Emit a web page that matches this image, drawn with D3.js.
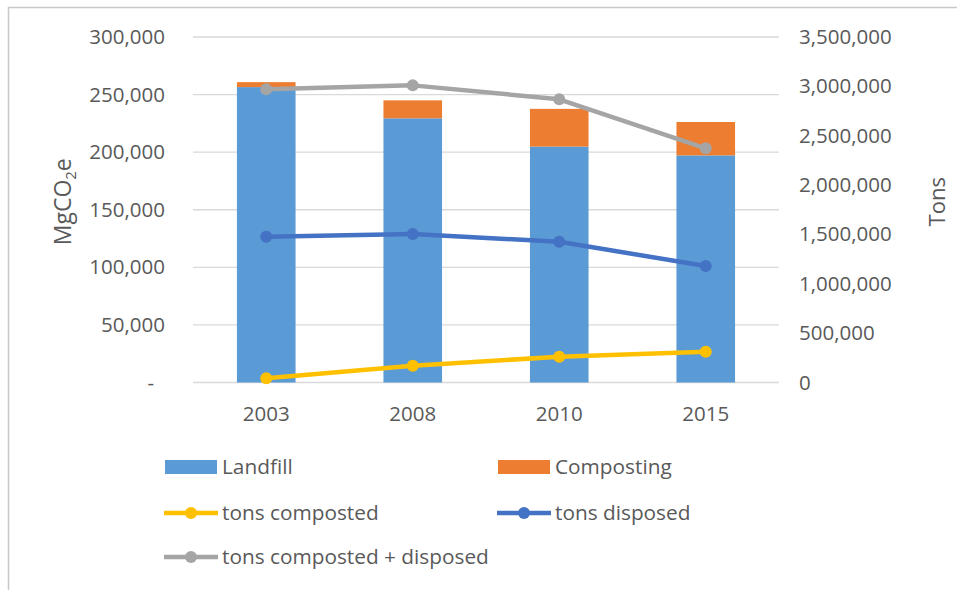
<!DOCTYPE html>
<html>
<head>
<meta charset="utf-8">
<script src="https://cdn.jsdelivr.net/npm/d3@7"></script>
<style>
  html, body { margin: 0; padding: 0; background: #fff; }
  svg { display: block; }
  text { font-family: "Open Sans", "Noto Sans", sans-serif; fill: #595959; }
</style>
</head>
<body>
<svg id="chart" width="957" height="590"></svg>
<script>
// Emissions by year (MgCO2e), stacked bars
const years = ["2003", "2008", "2010", "2015"];
const landfill = [256500, 229400, 204800, 197200];
const composting = [4300, 15600, 32800, 29000];

// Tonnage series (secondary axis)
const tonsComposted = [42500, 170000, 261000, 312000];
const tonsDisposed = [1477000, 1504000, 1426000, 1180000];
const tonsTotal = [2970000, 3010000, 2869000, 2372000];

const leftTicks = [0, 50000, 100000, 150000, 200000, 250000, 300000];
const rightTicks = [0, 500000, 1000000, 1500000, 2000000, 2500000, 3000000, 3500000];

const colors = {
  landfill: "#5B9BD5",
  composting: "#ED7D31",
  composted: "#FFC000",
  disposed: "#4472C4",
  total: "#A5A5A5"
};

const svg = d3.select("#chart");
const W = 957, H = 590;
const plot = { left: 193, right: 779, top: 37, bottom: 382.5 };

// Chart frame
svg.append("path")
  .attr("d", `M8.5,${H} L8.5,7.5 L${W},7.5`)
  .attr("fill", "none")
  .attr("stroke", "#C8C8C8")
  .attr("stroke-width", 1.5);

const x = d3.scaleBand().domain(years).range([plot.left, plot.right]).paddingInner(0).paddingOuter(0);
const yL = d3.scaleLinear().domain([0, 300000]).range([plot.bottom, plot.top]);
const yR = d3.scaleLinear().domain([0, 3500000]).range([plot.bottom, plot.top]);

const fmt = d3.format(",");

// Gridlines
svg.append("g").selectAll("line").data(leftTicks).join("line")
  .attr("x1", plot.left).attr("x2", plot.right)
  .attr("y1", d => yL(d)).attr("y2", d => yL(d))
  .attr("stroke", "#D9D9D9").attr("stroke-width", 1.3);

// Left axis
const leftAxis = svg.append("g")
  .attr("transform", `translate(${plot.left - 28},0)`)
  .call(d3.axisLeft(yL).tickValues(leftTicks).tickSize(0).tickPadding(0)
    .tickFormat(d => d === 0 ? "-" : fmt(d)));
leftAxis.select(".domain").remove();
leftAxis.selectAll("text")
  .attr("font-size", 20.5)
  .attr("fill", "#595959")
  .attr("font-family", "'Open Sans', sans-serif")
  .attr("dx", d => d === 0 ? -11 : 0);

// Right axis
const rightAxis = svg.append("g")
  .attr("transform", `translate(${plot.right + 20},0)`)
  .call(d3.axisRight(yR).tickValues(rightTicks).tickSize(0).tickPadding(0).tickFormat(fmt));
rightAxis.select(".domain").remove();
rightAxis.selectAll("text")
  .attr("font-size", 20.5)
  .attr("fill", "#595959")
  .attr("font-family", "'Open Sans', sans-serif");

// Category axis labels
const xAxis = svg.append("g")
  .attr("transform", `translate(0,${plot.bottom + 20})`)
  .call(d3.axisBottom(x).tickSize(0).tickPadding(0));
xAxis.select(".domain").remove();
xAxis.selectAll("text")
  .attr("font-size", 20.5)
  .attr("fill", "#595959")
  .attr("font-family", "'Open Sans', sans-serif")
  .attr("dy", "0.9em");

// Stacked bars
const barW = x.bandwidth() * 0.4;
const stackData = years.map((yr, i) => ({ year: yr, landfill: landfill[i], composting: composting[i] }));
const stack = d3.stack().keys(["landfill", "composting"])(stackData);
svg.append("g").selectAll("g").data(stack).join("g")
  .attr("fill", s => colors[s.key])
  .selectAll("rect").data(s => s).join("rect")
  .attr("x", d => x(d.data.year) + (x.bandwidth() - barW) / 2)
  .attr("width", barW)
  .attr("y", d => yL(d[1]))
  .attr("height", d => yL(d[0]) - yL(d[1]));

// Lines on the secondary axis
const cx = yr => x(yr) + x.bandwidth() / 2;
const lineSeries = [
  { key: "composted", values: tonsComposted },
  { key: "disposed", values: tonsDisposed },
  { key: "total", values: tonsTotal }
];
const line = d3.line().x((d, i) => cx(years[i])).y(d => yR(d));
lineSeries.forEach(s => {
  const g = svg.append("g");
  g.append("path")
    .attr("d", line(s.values))
    .attr("fill", "none")
    .attr("stroke", colors[s.key])
    .attr("stroke-width", 4.5)
    .attr("stroke-linejoin", "round");
  g.selectAll("circle").data(s.values).join("circle")
    .attr("cx", (d, i) => cx(years[i]))
    .attr("cy", d => yR(d))
    .attr("r", 6)
    .attr("fill", colors[s.key]);
});

// Axis titles
svg.append("text")
  .attr("transform", `translate(71,${(plot.top + plot.bottom) / 2 - 8}) rotate(-90)`)
  .attr("text-anchor", "middle")
  .attr("font-size", 23)
  .call(t => {
    t.append("tspan").text("MgCO");
    t.append("tspan").text("2").attr("font-size", 15).attr("dy", 5);
    t.append("tspan").text("e").attr("dy", -5);
  });

svg.append("text")
  .attr("transform", `translate(945,${(plot.top + plot.bottom) / 2 - 8}) rotate(-90)`)
  .attr("text-anchor", "middle")
  .attr("font-size", 22)
  .text("Tons");

// Legend
const legendItems = [
  { label: "Landfill", key: "landfill", type: "rect", x: 165, y: 467 },
  { label: "Composting", key: "composting", type: "rect", x: 498, y: 467 },
  { label: "tons composted", key: "composted", type: "line", x: 164, y: 513 },
  { label: "tons disposed", key: "disposed", type: "line", x: 497, y: 513 },
  { label: "tons composted + disposed", key: "total", type: "line", x: 164, y: 557 }
];
const leg = svg.append("g").selectAll("g").data(legendItems).join("g")
  .attr("transform", d => `translate(${d.x},${d.y})`);
leg.filter(d => d.type === "rect").append("rect")
  .attr("x", 0).attr("y", -7).attr("width", 52).attr("height", 14)
  .attr("fill", d => colors[d.key]);
leg.filter(d => d.type === "line").append("line")
  .attr("x1", 0).attr("x2", 54).attr("y1", 0).attr("y2", 0)
  .attr("stroke", d => colors[d.key]).attr("stroke-width", 4.5);
leg.filter(d => d.type === "line").append("circle")
  .attr("cx", 27).attr("cy", 0).attr("r", 6)
  .attr("fill", d => colors[d.key]);
leg.append("text")
  .attr("x", d => d.type === "rect" ? 57 : 58)
  .attr("y", 0)
  .attr("dy", "0.35em")
  .attr("font-size", 20.8)
  .text(d => d.label);
</script>
</body>
</html>
